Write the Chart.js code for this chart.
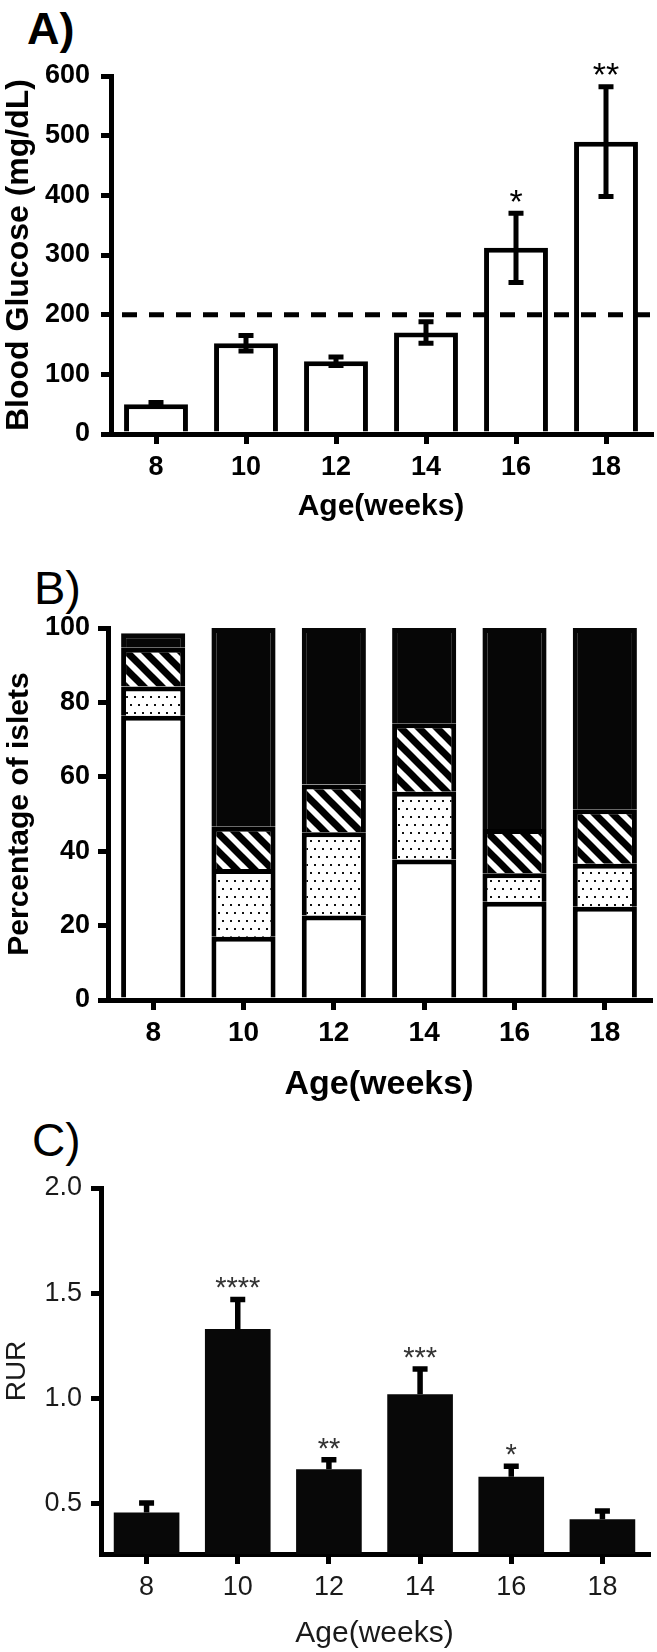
<!DOCTYPE html>
<html>
<head>
<meta charset="utf-8">
<script src="https://cdn.jsdelivr.net/npm/chart.js@4.4.1/dist/chart.umd.min.js"></script>
<style>
  body { margin: 0; background: #fff; width: 657px; height: 1652px; position: relative; overflow: hidden;
         font-family: "Liberation Sans", Arial, sans-serif; }
  canvas { position: absolute; left: 0; }
  .letra { position: absolute; line-height: 1; color: #000; }
</style>
</head>
<body>
<div class="letra" style="left:27px; top:6px; font-size:45px; font-weight:bold;">A)</div>
<div class="letra" style="left:34px; top:564px; font-size:47px;">B)</div>
<div class="letra" style="left:32px; top:1117px; font-size:46px;">C)</div>

<canvas id="graficoGlicose" width="657" height="525" style="top:0px"></canvas>
<canvas id="graficoIlhotas" width="657" height="580" style="top:525px"></canvas>
<canvas id="graficoRur" width="657" height="547" style="top:1105px"></canvas>

<script>
// dados
const idades = ["8", "10", "12", "14", "16", "18"];

// A) glicemia
const glicoseMedia = [50, 152, 122, 170, 312, 490];
const glicoseErro = [3, 13, 7, 18, 58, 92];
const glicoseEstrelas = ["", "", "", "", "*", "**"];
const limiteGlicose = 200;
const ticksGlicose = [0, 100, 200, 300, 400, 500, 600];

// B) percentual de ilhotas (empilhado, de baixo para cima)
const ilhotasSemInsulite = [76.4, 17, 22.7, 37.8, 26.4, 25.1];
const ilhotasPeri = [7.9, 18.2, 22.4, 18.2, 7.7, 11.5];
const ilhotasModerada = [10.4, 11.4, 12.8, 18.4, 11.9, 14.7];
const ilhotasGrave = [3.9, 53.4, 42.1, 25.6, 54, 48.7];
const ticksIlhotas = [0, 20, 40, 60, 80, 100];

// C) RUR
const rurMedia = [0.457, 1.33, 0.663, 1.02, 0.627, 0.425];
const rurErro = [0.045, 0.14, 0.045, 0.12, 0.05, 0.04];
const rurEstrelas = ["", "****", "**", "***", "*", ""];
const ticksRur = [0.5, 1.0, 1.5, 2.0];

Chart.defaults.font.family = '"Liberation Sans", Arial, sans-serif';
Chart.defaults.color = "#000";

// padroes de preenchimento
function padraoListras(ctx) {
  const c = document.createElement("canvas");
  c.width = 18; c.height = 18;
  const g = c.getContext("2d");
  g.fillStyle = "#fff";
  g.fillRect(0, 0, 18, 18);
  g.strokeStyle = "#000";
  g.lineWidth = 7;
  [-18, 0, 18].forEach((k) => {
    g.beginPath();
    g.moveTo(k - 3, -3);
    g.lineTo(k + 21, 21);
    g.stroke();
  });
  return ctx.createPattern(c, "repeat");
}

function padraoPontos(ctx) {
  const c = document.createElement("canvas");
  c.width = 16; c.height = 16;
  const g = c.getContext("2d");
  g.fillStyle = "#fff";
  g.fillRect(0, 0, 16, 16);
  g.fillStyle = "#111";
  g.fillRect(2, 3, 2, 2);
  g.fillRect(10, 3, 2, 2);
  g.fillRect(6, 11, 2, 2);
  g.fillRect(14, 11, 2, 2);
  return ctx.createPattern(c, "repeat");
}

// barras de erro, asteriscos e linha tracejada
const extras = {
  id: "extras",
  afterDatasetsDraw(chart, args, opts) {
    const ctx = chart.ctx;
    const y = chart.scales.y;
    const area = chart.chartArea;
    ctx.save();
    if (opts.limite !== undefined) {
      const yl = y.getPixelForValue(opts.limite);
      ctx.strokeStyle = "#000";
      ctx.lineWidth = 5;
      ctx.setLineDash([15, 12]);
      ctx.beginPath();
      ctx.moveTo(area.left + 11, yl);
      ctx.lineTo(area.right, yl);
      ctx.stroke();
      ctx.setLineDash([]);
    }
    if (opts.medias) {
      const meta = chart.getDatasetMeta(0);
      meta.data.forEach((barra, i) => {
        const m = opts.medias[i];
        const e = opts.erros[i];
        const topo = y.getPixelForValue(m + e);
        const fundo = y.getPixelForValue(opts.ambos ? m - e : m);
        ctx.strokeStyle = "#000";
        ctx.lineWidth = opts.largura;
        ctx.beginPath();
        ctx.moveTo(barra.x, topo);
        ctx.lineTo(barra.x, fundo);
        ctx.moveTo(barra.x - 7.5, topo);
        ctx.lineTo(barra.x + 7.5, topo);
        if (opts.ambos) {
          ctx.moveTo(barra.x - 7.5, fundo);
          ctx.lineTo(barra.x + 7.5, fundo);
        }
        ctx.stroke();
        const est = opts.estrelas[i];
        if (est) {
          ctx.fillStyle = opts.corEstrela;
          ctx.font = opts.tamEstrela + 'px "Liberation Sans", Arial, sans-serif';
          ctx.textAlign = "center";
          ctx.textBaseline = "alphabetic";
          ctx.fillText(est, barra.x, topo - opts.folga + 0.55 * opts.tamEstrela);
        }
      });
    }
    ctx.restore();
  },
};

function eixoX(alturaEixo, fonteTick, padTick, fonteTitulo, padTitulo) {
  return {
    type: "category",
    offset: true,
    grid: { display: true, drawOnChartArea: false, drawTicks: true, tickLength: 10, lineWidth: 5, color: "#000", offset: false },
    border: { display: true, width: 5, color: "#000" },
    ticks: { font: fonteTick, padding: padTick, color: fonteTick.cor || "#000" },
    title: { display: true, text: "Age(weeks)", font: fonteTitulo, padding: { top: padTitulo, bottom: 0 }, color: fonteTitulo.cor || "#000" },
    afterFit: (s) => { s.height = alturaEixo; },
  };
}

// A) Blood glucose
new Chart(document.getElementById("graficoGlicose"), {
  type: "bar",
  data: {
    labels: idades,
    datasets: [
      {
        label: "Blood Glucose",
        data: glicoseMedia,
        backgroundColor: "#fff",
        borderColor: "#000",
        borderWidth: 5,
        borderSkipped: "start",
        barPercentage: 0.71,
        categoryPercentage: 1,
      },
    ],
  },
  options: {
    responsive: false,
    animation: false,
    devicePixelRatio: 1,
    layout: { padding: { top: 76, right: 6, left: 0, bottom: 0 } },
    plugins: {
      legend: { display: false },
      tooltip: { enabled: false },
      extras: { medias: glicoseMedia, erros: glicoseErro, estrelas: glicoseEstrelas, ambos: true, largura: 5,
                limite: limiteGlicose, corEstrela: "#000", tamEstrela: 34, folga: 19 },
    },
    scales: {
      x: eixoX(91, { size: 27, weight: "bold" }, 7, { size: 30, weight: "bold" }, 3),
      y: {
        min: 0,
        max: 600,
        afterBuildTicks: (s) => { s.ticks = ticksGlicose.map((v) => ({ value: v })); },
        grid: { display: true, drawOnChartArea: false, drawTicks: true, tickLength: 10, lineWidth: 5, color: "#000" },
        border: { display: true, width: 5, color: "#000" },
        ticks: { font: { size: 27, weight: "bold" }, padding: 11 },
        title: { display: true, text: "Blood Glucose (mg/dL)", font: { size: 32, weight: "bold" }, padding: { top: 0, bottom: 0 } },
        afterFit: (s) => { s.width = 111; },
      },
    },
  },
  plugins: [extras],
});

// B) Percentage of islets
const ctxIlhotas = document.getElementById("graficoIlhotas").getContext("2d");
const estiloSegmento = { borderColor: "#000", borderWidth: 5, borderSkipped: "start", barPercentage: 0.71, categoryPercentage: 1 };
new Chart(ctxIlhotas, {
  type: "bar",
  data: {
    labels: idades,
    datasets: [
      { label: "sem insulite", data: ilhotasSemInsulite, backgroundColor: "#fff", ...estiloSegmento },
      { label: "peri-insulite", data: ilhotasPeri, backgroundColor: padraoPontos(ctxIlhotas), ...estiloSegmento },
      { label: "insulite moderada", data: ilhotasModerada, backgroundColor: padraoListras(ctxIlhotas), ...estiloSegmento },
      { label: "insulite grave", data: ilhotasGrave, backgroundColor: "#060606", ...estiloSegmento, borderColor: "#060606" },
    ],
  },
  options: {
    responsive: false,
    animation: false,
    devicePixelRatio: 1,
    layout: { padding: { top: 103, right: 7, left: 0, bottom: 0 } },
    plugins: { legend: { display: false }, tooltip: { enabled: false } },
    scales: {
      x: { ...eixoX(105, { size: 28, weight: "bold" }, 6, { size: 34, weight: "bold" }, 7), stacked: true },
      y: {
        stacked: true,
        min: 0,
        max: 100,
        afterBuildTicks: (s) => { s.ticks = ticksIlhotas.map((v) => ({ value: v })); },
        grid: { display: true, drawOnChartArea: false, drawTicks: true, tickLength: 10, lineWidth: 5, color: "#000" },
        border: { display: true, width: 5, color: "#000" },
        ticks: { font: { size: 27, weight: "bold" }, padding: 8 },
        title: { display: true, text: "Percentage of islets", font: { size: 30, weight: "bold" }, padding: { top: 2, bottom: 0 } },
        afterFit: (s) => { s.width = 108; },
      },
    },
  },
});

// C) RUR
new Chart(document.getElementById("graficoRur"), {
  type: "bar",
  data: {
    labels: idades,
    datasets: [
      {
        label: "RUR",
        data: rurMedia,
        backgroundColor: "#080808",
        borderWidth: 0,
        barPercentage: 0.72,
        categoryPercentage: 1,
      },
    ],
  },
  options: {
    responsive: false,
    animation: false,
    devicePixelRatio: 1,
    layout: { padding: { top: 83, right: 9, left: 0, bottom: 0 } },
    plugins: {
      legend: { display: false },
      tooltip: { enabled: false },
      extras: { medias: rurMedia, erros: rurErro, estrelas: rurEstrelas, ambos: false, largura: 5.5,
                corEstrela: "#333", tamEstrela: 29, folga: 18 },
    },
    scales: {
      x: eixoX(98, { size: 27, cor: "#1a1a1a" }, 7, { size: 30, cor: "#1a1a1a" }, 0),
      y: {
        min: 0.26,
        max: 2.0,
        afterBuildTicks: (s) => { s.ticks = ticksRur.map((v) => ({ value: v })); },
        grid: { display: true, drawOnChartArea: false, drawTicks: true, tickLength: 10, lineWidth: 5, color: "#000" },
        border: { display: true, width: 5, color: "#000" },
        ticks: { font: { size: 27 }, padding: 9, color: "#1a1a1a", callback: (v) => Number(v).toFixed(1) },
        title: { display: true, text: "RUR", font: { size: 28 }, padding: { top: 0, bottom: 0 }, color: "#1a1a1a" },
        afterFit: (s) => { s.width = 101; },
      },
    },
  },
  plugins: [extras],
});
</script>
</body>
</html>
